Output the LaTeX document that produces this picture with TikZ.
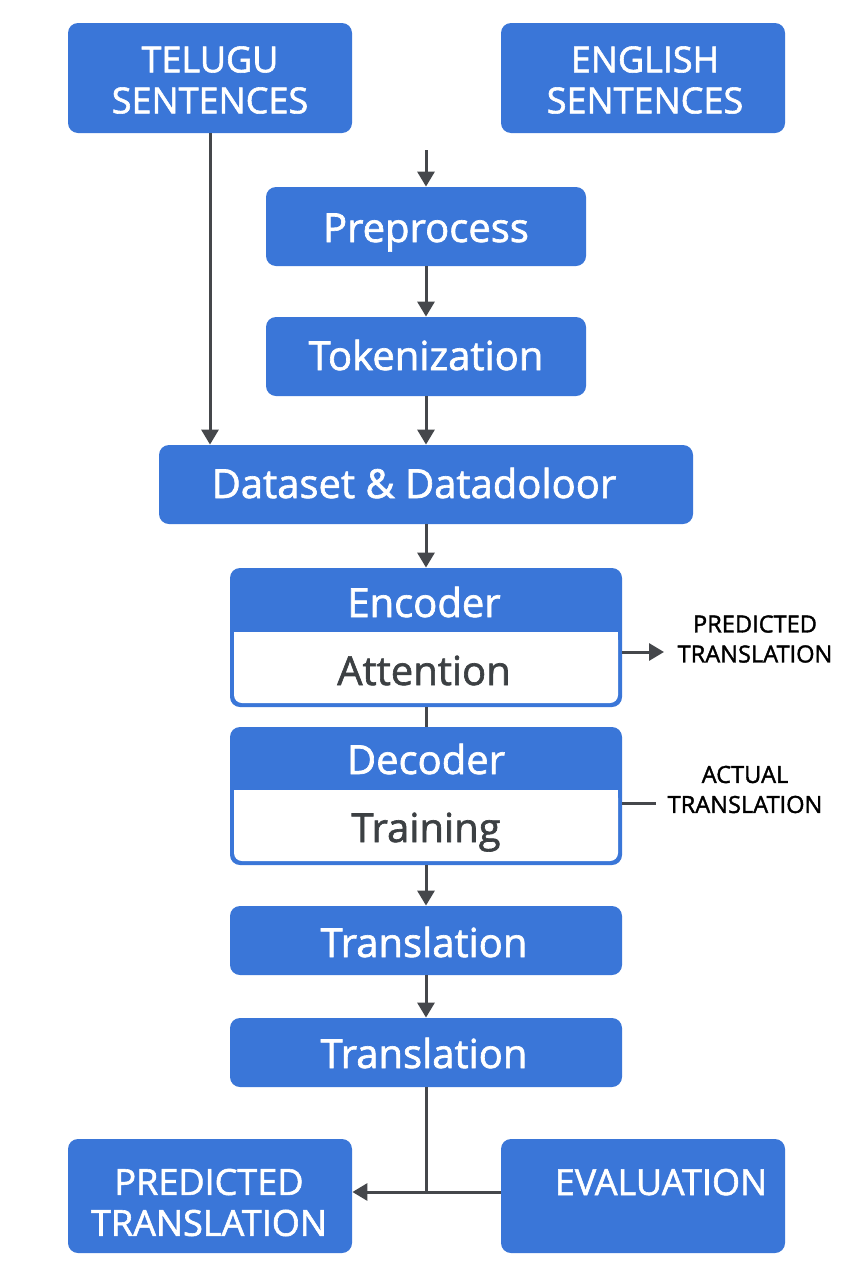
\documentclass[tikz,border=0pt]{standalone}
\usepackage{fontspec}
\setmainfont{Open Sans}
\newfontfamily\medfont[FakeBold=1.6]{Open Sans}
\usetikzlibrary{arrows.meta}
\definecolor{gblue}{RGB}{58,118,216}
\definecolor{garrow}{RGB}{69,71,75}
\definecolor{gtext}{RGB}{60,64,67}
\begin{document}
\begin{tikzpicture}[x=0.5pt,y=-0.5pt,
  bbox/.style={fill=gblue, rounded corners=5pt, inner sep=0pt},
  wtxt/.style={text=white, inner sep=0pt},
  capstxt/.style={wtxt, align=center, font=\medfont\fontsize{18}{20.5}\selectfont},
  lowtxt/.style={wtxt, anchor=base, font=\medfont\fontsize{20}{24}\selectfont},
  conn/.style={draw=garrow, line width=1.5pt},
  arr/.style={conn, -{Triangle[length=7.5pt,width=8.5pt]}},
  side/.style={font=\medfont\fontsize{11.8}{15}\selectfont, align=center, text=black, inner sep=0pt}]
\useasboundingbox[fill=white] (0,0) rectangle (853,1280);

% top boxes
\node[bbox, minimum width=142pt, minimum height=55pt] (tel) at (210,78) {};
\node[capstxt] (telt) at (210,80) {TELUGU\\SENTENCES};
\node[bbox, minimum width=142pt, minimum height=55pt] (eng) at (643,78) {};
\node[capstxt] (engt) at (645,80) {ENGLISH\\SENTENCES};

% preprocess / tokenization / dataset
\node[bbox, minimum width=160pt, minimum height=39.5pt] (pre) at (426,226.5) {};
\node[lowtxt] (pret) at (426,242) {Preprocess};
\node[bbox, minimum width=160pt, minimum height=39.5pt] (tok) at (426,356.5) {};
\node[lowtxt] (tokt) at (426,370) {Tokenization};
\node[bbox, minimum width=267pt, minimum height=39.5pt] (ds) at (426,484.5) {};
\node[lowtxt] (dst) at (414,498) {Dataset \& Datadoloor};

% encoder
\node[bbox, minimum width=196pt, minimum height=69.5pt] (enc) at (426,637.5) {};
\fill[white, rounded corners=4pt] (234,632) rectangle (618,703);
\fill[white] (234,632) rectangle (618,660);
\node[lowtxt] (enct) at (424,617) {Encoder};
\node[lowtxt, text=gtext] (att) at (424,685) {Attention};

% decoder
\node[bbox, minimum width=196pt, minimum height=69pt] (dec) at (426,796) {};
\fill[white, rounded corners=4pt] (234,790) rectangle (618,861);
\fill[white] (234,790) rectangle (618,820);
\node[lowtxt] (dect) at (426,774) {Decoder};
\node[lowtxt, text=gtext] (trn) at (426,842) {Training};

% translations
\node[bbox, minimum width=196pt, minimum height=34.5pt] (tr1) at (426,940.5) {};
\node[lowtxt] (tr1t) at (424,957) {Translation};
\node[bbox, minimum width=196pt, minimum height=34.5pt] (tr2) at (426,1052.5) {};
\node[lowtxt] (tr2t) at (424,1068) {Translation};

% bottom boxes
\node[bbox, minimum width=142pt, minimum height=57pt] (pred) at (210,1196) {};
\node[capstxt] (predt) at (209,1202.5) {PREDICTED\\TRANSLATION};
\node[bbox, minimum width=142pt, minimum height=57pt] (eval) at (643,1196) {};
\node[lowtxt, font=\medfont\fontsize{18}{20.5}\selectfont] (evalt) at (661,1195) {EVALUATION};

% side labels
\node[side] (plab) at (755,639) {PREDICTED\\TRANSLATION};
\node[side] (alab) at (745,789.5) {ACTUAL\\TRANSLATION};

% connectors
\coordinate (engin) at (426,150);
\draw[arr] (engin) -- (pre.north);
\draw[arr] (pre) -- (tok);
\draw[arr] (tok.south) -- (tok.south |- ds.north);
\draw[arr] (tel.south) -- (tel.south |- ds.north);
\draw[arr] (ds.south) -- (enc.north);
\draw[conn] (enc) -- (dec);
\draw[arr] (dec) -- (tr1);
\draw[arr] (tr1) -- (tr2);
\coordinate (predin) at (664,652);
\draw[arr] (enc.east |- predin) -- (predin);
\coordinate (actend) at (656,803);
\draw[conn] (dec.east |- actend) -- (actend);
\coordinate (j) at (426,1192);
\draw[conn] (tr2) -- (j);
\draw[arr] (eval.west |- j) -- (pred.east |- j);
\end{tikzpicture}
\end{document}
